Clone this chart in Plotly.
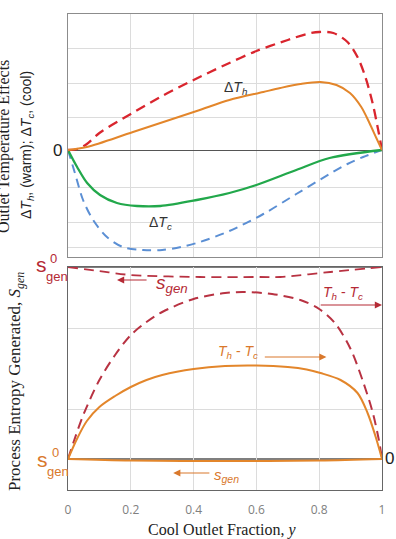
import plotly.graph_objects as go

# ---------------- data (arbitrary units) ----------------
# Top panel: outlet temperature effects (0 = reference level)
x_dTh_ideal = [0, 0.03, 0.06, 0.1, 0.2, 0.3, 0.4, 0.5, 0.6, 0.7, 0.76, 0.8, 0.845, 0.89, 0.922, 0.947, 0.97, 0.986, 1.0]
dTh_ideal   = [0, 1, 6, 17, 36, 54, 70, 85, 99, 110, 116, 118, 117, 108, 93, 73, 47, 23, 0]

x_dTh = [0, 0.06, 0.207, 0.41, 0.514, 0.622, 0.676, 0.74, 0.804, 0.855, 0.898, 0.934, 0.96, 0.982, 1.0]
dTh   = [0, 3, 18, 39, 50, 58, 62, 66, 68, 65, 57, 43, 27, 12, 0]

x_dTc = [0, 0.029, 0.061, 0.102, 0.156, 0.22, 0.294, 0.41, 0.514, 0.6, 0.727, 0.833, 1.0]
dTc   = [0, -17, -33, -45, -53, -56, -56, -50, -43, -35, -20, -8, 0]

x_dTc_ideal = [0, 0.022, 0.048, 0.08, 0.124, 0.175, 0.239, 0.3, 0.36, 0.42, 0.514, 0.622, 0.727, 0.833, 0.89, 0.94, 1.0]
dTc_ideal   = [0, -23, -50, -70, -87, -97, -100, -100, -97, -92, -81, -64, -44, -24, -14, -7, 0]

# Bottom panel: process entropy generated
s0_red = 223     # s0_gen level for the ideal (red) case
s0_org = 31      # s0_gen level for the real (orange) case

x_ThTc_ideal = [0, 0.02, 0.05, 0.1, 0.15, 0.2, 0.25, 0.3, 0.4, 0.5, 0.56, 0.65, 0.74, 0.8, 0.85, 0.9, 0.94, 0.97, 0.99, 1.0]
ThTc_ideal   = [31, 50, 76, 110, 135, 155, 168, 178, 191, 197, 198, 196, 190, 181, 167, 141, 108, 78, 50, 31]

x_ThTc = [0, 0.03, 0.06, 0.1, 0.15, 0.2, 0.25, 0.3, 0.4, 0.5, 0.6, 0.7, 0.76, 0.804, 0.868, 0.922, 0.954, 0.98, 1.0]
ThTc   = [31, 52, 69, 83, 94, 103, 110, 115, 121, 124, 124.5, 123, 120.5, 117, 110, 97, 77, 53, 31]

x_sgen_ideal = [0, 0.1, 0.2, 0.42, 0.6, 0.676, 0.835, 1.0]
sgen_ideal   = [223, 219, 215, 213, 213, 213, 218, 223]

x_sgen = [0, 0.2, 0.5, 0.8, 1.0]
sgen   = [31, 29.5, 29, 29.5, 31]

x_ticks = [0, 0.2, 0.4, 0.6, 0.8, 1]
x_ticktext = ["0", "0.2", "0.4", "0.6", "0.8", "1"]

# ---------------- styling ----------------
RED_T = "#d9252e"
BLUE = "#5b8fd4"
GREEN = "#22a84b"
ORANGE = "#e3862b"
RED_B = "#b83242"
RED_LBL = "#b52a35"
ORG_LBL = "#d9782c"
GRID = "#dcdcdc"
SANS = "Liberation Sans"
SERIF = "Liberation Serif"

fig = go.Figure()

def add(x, y, color, width, dash, axis):
    fig.add_trace(go.Scatter(
        x=x, y=y, mode="lines",
        line=dict(color=color, width=width, dash=dash, shape="spline", smoothing=0.9),
        xaxis="x" if axis == 1 else "x2", yaxis="y" if axis == 1 else "y2",
        showlegend=False, hoverinfo="skip"))

add(x_dTc_ideal, dTc_ideal, BLUE, 2, "9px,6px", 1)
add(x_dTc, dTc, GREEN, 2.3, "solid", 1)
add(x_dTh_ideal, dTh_ideal, RED_T, 2.3, "10px,6px", 1)
add(x_dTh, dTh, ORANGE, 2, "solid", 1)

add(x_ThTc_ideal, ThTc_ideal, RED_B, 2, "10px,6px", 2)
add(x_ThTc, ThTc, ORANGE, 2, "solid", 2)
add(x_sgen_ideal, sgen_ideal, RED_B, 1.8, "10px,6px", 2)
add(x_sgen, sgen, ORANGE, 2, "solid", 2)

# reference lines (s0_gen levels)
for lvl in (s0_red, s0_org):
    fig.add_shape(type="line", xref="x2", yref="y2", x0=0, x1=1, y0=lvl, y1=lvl,
                  line=dict(color="#555555", width=1.3), layer="below")

# panel layout (px -> paper fractions)
PLOT_TOP, PLOT_BOT = 14, 490
H = PLOT_BOT - PLOT_TOP
def py(p):
    return (PLOT_BOT - p) / H
L, R = 68, 382
W = R - L
def px(p):
    return (p - L) / W

axis_common = dict(showgrid=True, gridcolor=GRID, gridwidth=1, showline=True, mirror=True,
                   ticks="", zeroline=False, range=[0, 1], tickvals=x_ticks)

fig.update_layout(
    width=396, height=539,
    margin=dict(l=L, r=396 - R, t=PLOT_TOP, b=539 - PLOT_BOT),
    paper_bgcolor="white", plot_bgcolor="white",
    xaxis=dict(**axis_common, domain=[0, 1], anchor="y", showticklabels=False,
               linecolor="#8c8c8c", linewidth=1.3),
    yaxis=dict(domain=[py(257), 1], range=[-107, 136], showgrid=True, gridcolor=GRID,
               tickvals=[-97, -72, -37, 33, 67, 102], showticklabels=False, ticks="",
               zeroline=True, zerolinecolor="#555555", zerolinewidth=1.3,
               showline=True, mirror=True, linecolor="#8c8c8c", linewidth=1.3),
    xaxis2=dict(**axis_common, domain=[0, 1], anchor="y2", showticklabels=True,
                ticktext=x_ticktext, linecolor="#666666", linewidth=1.3,
                ticklabelstandoff=8,
                tickfont=dict(family="Open Sans", size=12, color="#808080")),
    yaxis2=dict(domain=[0, py(267)], range=[0, 223], showgrid=True, gridcolor=GRID,
                tickvals=[81, 162], showticklabels=False, ticks="", zeroline=False,
                showline=True, mirror=True, linecolor="#666666", linewidth=1.3),
)

ann = []
def A(**kw):
    base = dict(showarrow=False, xanchor="center", yanchor="middle")
    base.update(kw)
    ann.append(base)

# "0" markers
A(text="0", xref="paper", yref="y", x=px(57), y=0, font=dict(family=SANS, size=17, color="#222"))
A(text="0", xref="paper", yref="y2", x=px(389), y=s0_org + 1, font=dict(family=SANS, size=17, color="#222"))

# curve labels, top
A(text="Δ<i>T<sub>h</sub></i>", xref="x", yref="y", x=0.533, y=62, font=dict(family=SANS, size=14, color="#333"))
A(text="Δ<i>T<sub>c</sub></i>", xref="x", yref="y", x=0.295, y=-73, font=dict(family=SANS, size=14, color="#333"))

# s0_gen labels: (s position, superscript position, subscript position)
for (s_xy, sup_xy, sub_xy, col) in (((41, 264), (53, 258), (57, 276), RED_LBL),
                                     ((42, 459), (55, 452), (58, 471), ORG_LBL)):
    A(text="s", xref="paper", yref="paper", x=px(s_xy[0]), y=py(s_xy[1]), font=dict(family=SANS, size=21, color=col))
    A(text="0", xref="paper", yref="paper", x=px(sup_xy[0]), y=py(sup_xy[1]), font=dict(family=SANS, size=13, color=col))
    A(text="gen", xref="paper", yref="paper", x=px(sub_xy[0]), y=py(sub_xy[1]), font=dict(family=SANS, size=13, color=col))

# arrows + labels, bottom
def arrow(x_tip, x_tail, y, col):
    ann.append(dict(x=x_tip, y=y, ax=x_tail, ay=y, xref="x2", yref="y2", axref="x2", ayref="y2",
                    showarrow=True, arrowhead=2, arrowsize=1.2, arrowwidth=1.2, arrowcolor=col, text=""))

arrow(0.156, 0.255, 210, RED_LBL)
A(text="<i>s<sub>gen</sub></i>", xref="x2", yref="y2", x=0.33, y=206, font=dict(family=SANS, size=19, color=RED_LBL))

arrow(1.0, 0.80, 185, RED_LBL)
A(text="<i>T<sub>h</sub></i> - <i>T<sub>c</sub></i>", xref="x2", yref="y2", x=0.877, y=197, font=dict(family=SANS, size=14, color=RED_LBL))

arrow(0.823, 0.622, 133, ORG_LBL)
A(text="<i>T<sub>h</sub></i> - <i>T<sub>c</sub></i>", xref="x2", yref="y2", x=0.54, y=138, font=dict(family=SANS, size=14, color=ORG_LBL))

arrow(0.335, 0.455, 17, ORG_LBL)
A(text="<i>s<sub>gen</sub></i>", xref="x2", yref="y2", x=0.505, y=15, font=dict(family=SANS, size=15, color=ORG_LBL))

# axis titles
A(text="Outlet Temperature Effects", xref="paper", yref="paper", x=px(4), y=py(147), textangle=-90,
  font=dict(family=SERIF, size=16, color="#222"))
A(text="Δ<i>T<sub>h</sub></i>, (warm); Δ<i>T<sub>c</sub></i>, (cool)", xref="paper", yref="paper",
  x=px(27), y=py(145), textangle=-90, font=dict(family=SANS, size=14, color="#222"))
A(text="Process Entropy Generated, <i>S<sub>gen</sub></i>", xref="paper", yref="paper",
  x=px(16), y=py(382), textangle=-90, font=dict(family=SERIF, size=17, color="#222"))
A(text="Cool Outlet Fraction, <i>y</i>", xref="paper", yref="paper", x=px(222), y=py(530),
  font=dict(family=SERIF, size=16, color="#222"))

fig.update_layout(annotations=ann)
fig.write_html("out.html")
